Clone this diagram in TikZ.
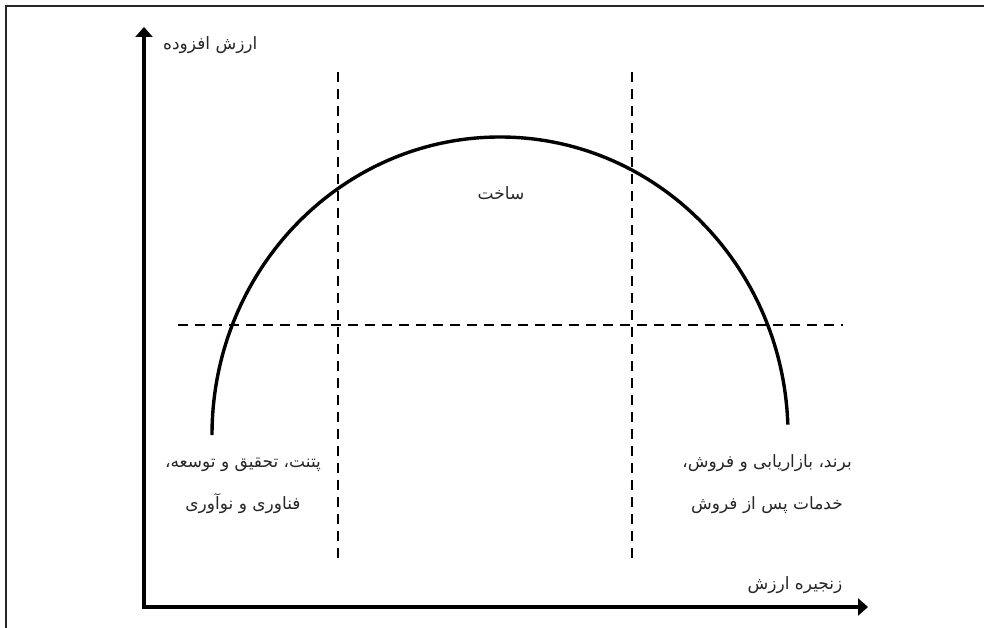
\documentclass[tikz,border=0pt]{standalone}
\usepackage{fontspec}
\newfontfamily\farsi[Script=Arabic]{DejaVu Sans}
\TeXXeTstate=1
\usetikzlibrary{arrows.meta}

\begin{document}
\begin{tikzpicture}[x=1pt, y=-1pt,
    axis/.style={draw, line width=3.6pt, line cap=rect, -{Triangle[length=10pt, width=17pt]}},
    guide/.style={draw, line width=1.6pt, dash pattern=on 10pt off 7pt},
    curve/.style={draw, line width=3.4pt},
    txt/.style={font=\farsi\fontsize{17}{42}\selectfont, align=center, inner sep=0pt, text=black!85}]
    \useasboundingbox (0,0) rectangle (984,628);
    \clip (0,0) rectangle (984,628);
    \draw [line width=2.4pt, black!85] (6,640) -- (6,6) -- (990,6);

    \coordinate (origin) at (144,607);
    \coordinate (ytip) at (144,27);
    \coordinate (xtip) at (868,607);
    \path [axis] (origin) -- (ytip);
    \path [axis] (origin) -- (xtip);

    % guide lines
    \coordinate (g1top) at (338,72);
    \coordinate (g1bot) at (338,565);
    \coordinate (g2top) at (632,72);
    \coordinate (g2bot) at (632,565);
    \coordinate (hleft) at (178,325);
    \coordinate (hright) at (843,325);
    \path [guide] (g1top) -- (g1bot);
    \path [guide] (g2top) -- (g2bot);
    \path [guide] (hleft) -- (hright);

    % smile curve
    \coordinate (start) at (212,435);
    \path [curve] (start) arc [start angle=180, end angle=2, x radius=288pt, y radius=298pt];

    \node [txt, anchor=west] (yname) at (163,45) {\beginR ارزش افزوده\endR};
    \node [txt] (xname) at (795,585) {\beginR زنجیره ارزش\endR};
    \node [txt] (build) at (501,193) {\beginR ساخت\endR};
    \node [txt] (rnd) at (243,486) {\beginR پتنت، تحقیق و توسعه،\endR\\ \beginR فناوری و نوآوری\endR};
    \node [txt] (sales) at (767,484) {\beginR برند، بازاریابی و فروش،\endR\\ \beginR خدمات پس از فروش\endR};
\end{tikzpicture}
\end{document}
